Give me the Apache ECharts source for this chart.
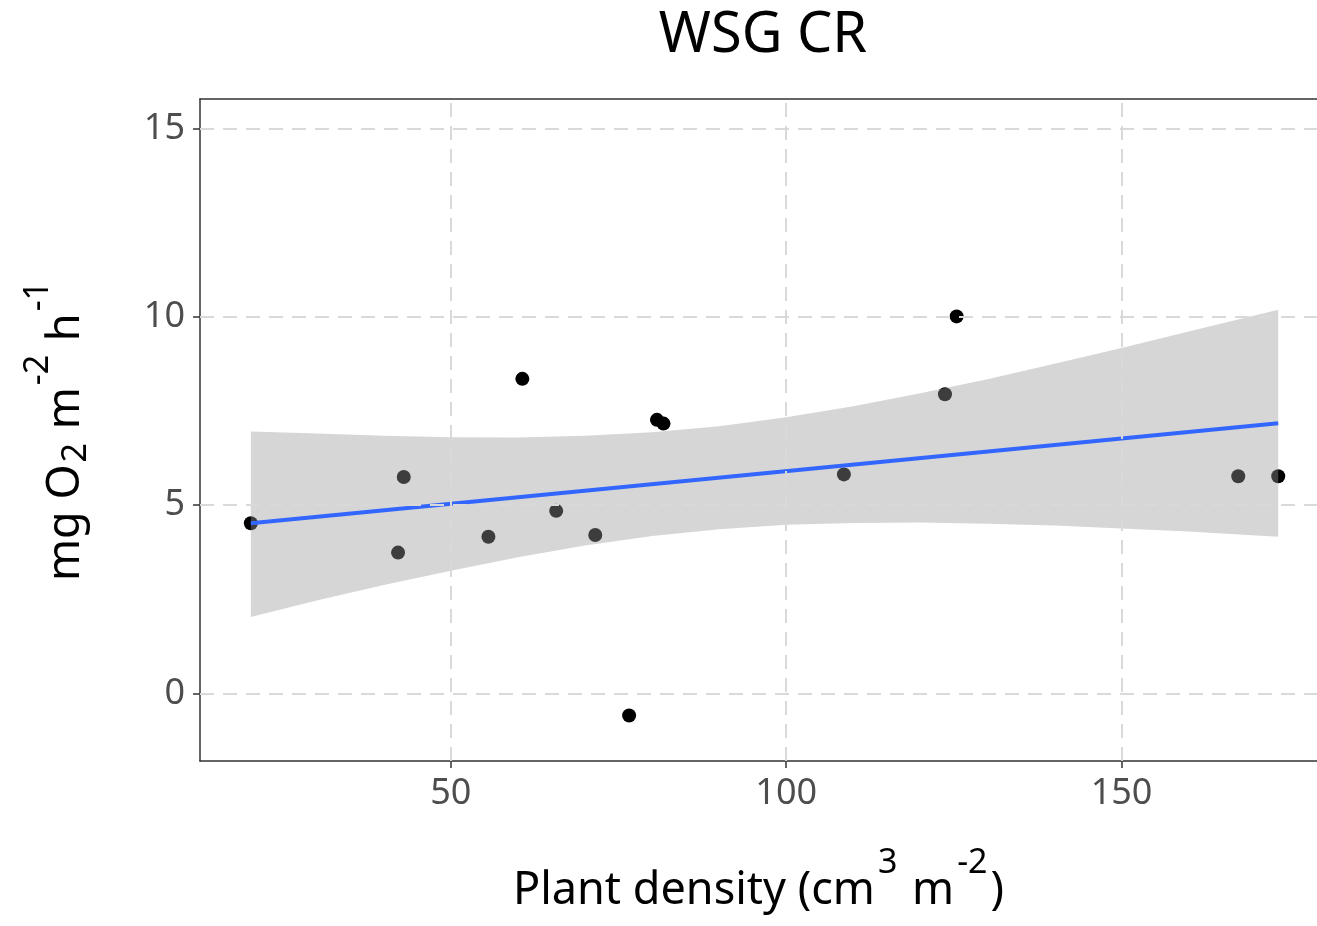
<!DOCTYPE html>
<html>
<head>
<meta charset="utf-8">
<script src="https://cdn.jsdelivr.net/npm/echarts@6/dist/echarts.min.js"></script>
<style>
html,body{margin:0;padding:0;background:#fff;}
#chart{width:1317px;height:926px;}
</style>
</head>
<body>
<div id="chart"></div>
<script>
// Observations
const densityX = [20.18, 42.13, 42.98, 55.6, 60.66, 65.71, 71.53, 76.58, 80.73, 81.7, 108.6, 123.67, 125.41, 167.4, 173.36];
const o2Rate   = [4.52, 3.74, 5.75, 4.16, 8.36, 4.85, 4.21, -0.59, 7.27, 7.17, 5.82, 7.95, 10.02, 5.77, 5.77];
// Fitted line (end points)
const fitX = [20.18, 173.36];
const fitY = [4.52, 7.18];
// Confidence band
const bandX    = [20.18, 30, 40, 50, 60, 70, 80, 90, 100, 110, 120, 130, 140, 150, 160, 173.36];
const bandLow  = [2.03, 2.47, 2.88, 3.26, 3.62, 3.93, 4.18, 4.36, 4.48, 4.53, 4.54, 4.51, 4.46, 4.38, 4.30, 4.16];
const bandHigh = [6.96, 6.91, 6.85, 6.81, 6.80, 6.85, 6.94, 7.10, 7.34, 7.63, 7.98, 8.35, 8.76, 9.18, 9.62, 10.20];
// Ticks
const xTicks = [50, 100, 150];
const yTicks = [0, 5, 10, 15];

const FONT = 'Noto Sans';
const chart = echarts.init(document.getElementById('chart'), null, {renderer: 'canvas'});

const points = densityX.map((x, i) => [x, o2Rate[i]]);
const fitData = fitX.map((x, i) => [x, fitY[i]]);
const bandData = bandX.map((x, i) => [x, bandLow[i], bandHigh[i]]);

const X_MIN = 12.6, X_MAX = 179.14, Y_MIN = -1.8, Y_MAX = 15.8;
const gridLineStyle = {type: [14, 9], color: '#d9d9d9', width: 2};
const gridMarks = xTicks.map(v => ({xAxis: v})).concat(yTicks.map(v => ({yAxis: v})));
const axisLineStyle = {color: '#333', width: 1.5};

const option = {
  animation: false,
  backgroundColor: '#ffffff',
  graphic: [{
    type: 'text', x: 763, y: 36, z: 10,
    style: {text: 'WSG CR', font: '56px "' + FONT + '"', fill: '#000', textAlign: 'center', textVerticalAlign: 'middle'}
  }],
  grid: {left: 200, top: 99, bottom: 165, right: 0, show: false},
  xAxis: [{
    type: 'value', min: X_MIN, max: X_MAX, position: 'bottom',
    splitLine: {show: false},
    axisLine: {show: true, onZero: false, lineStyle: axisLineStyle},
    axisTick: {show: true, length: 7, customValues: xTicks, lineStyle: axisLineStyle},
    axisLabel: {customValues: xTicks, margin: 15, fontFamily: FONT, fontSize: 36, lineHeight: 36, color: '#4d4d4d'},
    name: '{a|Plant density (cm}{s|3}{a| m}{s|-2}{a|)}',
    nameLocation: 'middle', nameGap: 85,
    nameTextStyle: {
      rich: {
        a: {fontFamily: FONT, fontSize: 45, height: 46, lineHeight: 68, color: '#000', verticalAlign: 'bottom'},
        s: {fontFamily: FONT, fontSize: 34, height: 34, lineHeight: 68, color: '#000', verticalAlign: 'top', padding: [0, 3, 0, 3]}
      }
    }
  }, {
    type: 'value', min: X_MIN, max: X_MAX, position: 'top',
    splitLine: {show: false},
    axisLine: {show: true, onZero: false, lineStyle: axisLineStyle},
    axisTick: {show: false},
    axisLabel: {show: false}
  }],
  yAxis: {
    type: 'value', min: Y_MIN, max: Y_MAX,
    splitLine: {show: false},
    axisLine: {show: true, onZero: false, lineStyle: axisLineStyle},
    axisTick: {show: true, length: 7, customValues: yTicks, lineStyle: axisLineStyle},
    axisLabel: {customValues: yTicks, margin: 15, fontFamily: FONT, fontSize: 36, lineHeight: 36, color: '#4d4d4d'},
    name: '{a|mg O}{b|2}{a| m}{s|-2}{a| h}{s|-1}',
    nameLocation: 'middle', nameRotate: 90, nameGap: 107,
    nameTextStyle: {
      rich: {
        a: {fontFamily: FONT, fontSize: 45, height: 54, lineHeight: 72, color: '#000', verticalAlign: 'bottom'},
        s: {fontFamily: FONT, fontSize: 34, height: 34, lineHeight: 72, color: '#000', verticalAlign: 'top', padding: [0, 2, 0, 2]},
        b: {fontFamily: FONT, fontSize: 34, height: 34, lineHeight: 72, color: '#000', verticalAlign: 'bottom', padding: [0, 2, 0, 2]}
      }
    }
  },
  series: [
    {
      type: 'line', data: [], z: 1, silent: true, xAxisIndex: 0,
      markLine: {silent: true, symbol: 'none', label: {show: false}, lineStyle: gridLineStyle, data: gridMarks, animation: false}
    },
    {
      type: 'scatter', data: points, symbol: 'circle', symbolSize: 14, z: 2, xAxisIndex: 0,
      itemStyle: {color: '#000', opacity: 1}
    },
    {
      type: 'custom', data: bandData, z: 3, silent: true, xAxisIndex: 0,
      encode: {x: 0, y: [1, 2]},
      renderItem: function (params, api) {
        if (params.dataIndex !== 0) return null;
        const pts = [];
        for (let i = 0; i < bandX.length; i++) pts.push(api.coord([bandX[i], bandHigh[i]]));
        for (let i = bandX.length - 1; i >= 0; i--) pts.push(api.coord([bandX[i], bandLow[i]]));
        return {type: 'polygon', shape: {points: pts}, style: {fill: 'rgba(153,153,153,0.4)', stroke: null}};
      }
    },
    {
      type: 'line', data: fitData, z: 4, showSymbol: false, silent: true, xAxisIndex: 0,
      lineStyle: {color: '#3366FF', width: 4}
    }
  ]
};
chart.setOption(option);
</script>
</body>
</html>
